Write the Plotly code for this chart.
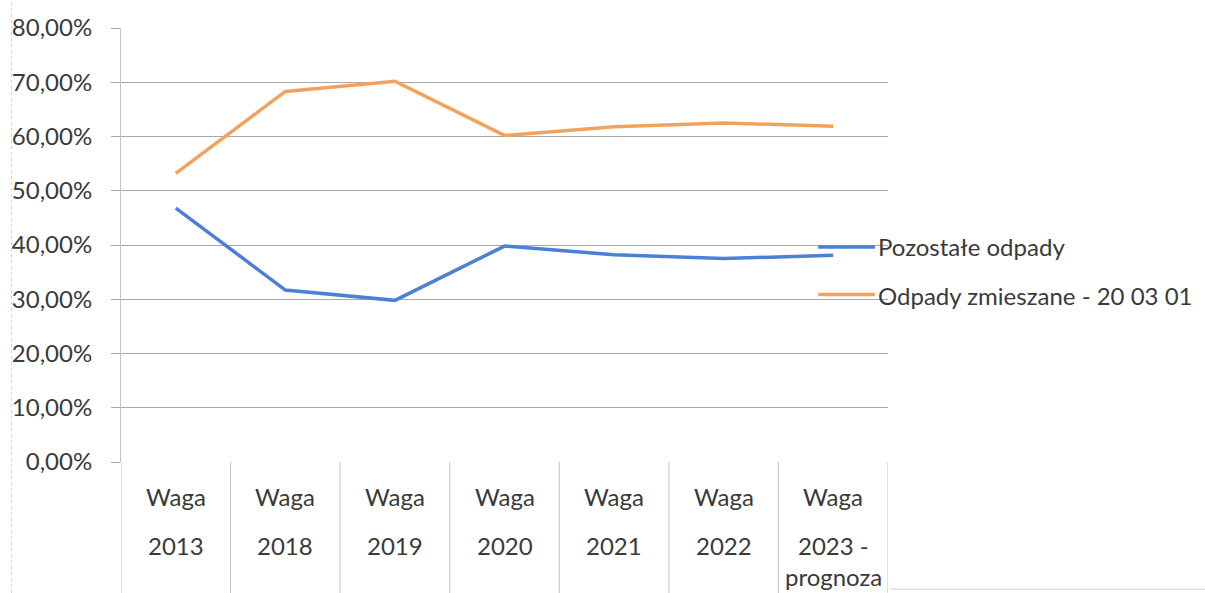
import plotly.graph_objects as go

# Category labels (first word on line 1, year on line 2, suffix on line 3)
categories = ["Waga 2013", "Waga 2018", "Waga 2019", "Waga 2020",
              "Waga 2021", "Waga 2022", "Waga 2023 - prognoza"]

# Shares of waste streams per year
pozostale = [0.468, 0.317, 0.298, 0.398, 0.382, 0.375, 0.381]
zmieszane = [0.532, 0.683, 0.702, 0.602, 0.618, 0.625, 0.619]

series_names = ["Pozostałe odpady", "Odpady zmieszane - 20 03 01"]
series_colors = ["#4a80d6", "#f3a25c"]

FONT = "Lato, 'Open Sans', sans-serif"
TEXT_COLOR = "#3a3a3a"
FS = 24

fig = go.Figure()
for vals, name, color in zip([pozostale, zmieszane], series_names, series_colors):
    fig.add_trace(go.Scatter(x=categories, y=vals, mode="lines", name=name,
                             line=dict(color=color, width=3.5),
                             showlegend=False))

shapes = []
annotations = []

# Category box dividers below the plot area
n = len(categories)
for i in range(n + 1):
    shapes.append(dict(type="line", xref="x", yref="paper",
                       x0=i - 0.5, x1=i - 0.5, y0=0, y1=-0.31 if i else -0.31,
                       line=dict(color="#c4c4c4", width=1)))

# Multi-line category labels
line_y = [-0.0795, -0.193, -0.264]
for cat in categories:
    first, rest = cat.split(" ", 1)
    lines = [first]
    if " - " in rest:
        a, b = rest.split(" - ", 1)
        lines += [a + " -", b]
    else:
        lines.append(rest)
    for k, txt in enumerate(lines):
        annotations.append(dict(x=cat, y=line_y[k], xref="x", yref="paper",
                                text=txt, showarrow=False,
                                xanchor="center", yanchor="middle",
                                font=dict(family=FONT, size=FS, color=TEXT_COLOR)))

# Legend drawn at the right edge of the plot
leg_line_y = [0.4955, 0.386]
leg_text_y = [0.4955, 0.384]
for name, color, ly, ty in zip(series_names, series_colors, leg_line_y, leg_text_y):
    shapes.append(dict(type="line", xref="paper", yref="paper",
                       x0=0.909, x1=0.983, y0=ly, y1=ly,
                       line=dict(color=color, width=3.5)))
    annotations.append(dict(x=0.985, y=ty, xref="paper", yref="paper",
                            text=name, showarrow=False,
                            xanchor="left", yanchor="middle",
                            font=dict(family=FONT, size=FS, color=TEXT_COLOR)))

# Outer frame remnants
shapes.append(dict(type="line", xref="paper", yref="paper",
                   x0=-0.1427, x1=-0.1427, y0=1.06, y1=-0.31,
                   line=dict(color="#cfcfcf", width=1, dash="dot")))
shapes.append(dict(type="line", xref="paper", yref="paper",
                   x0=1.003, x1=1.42, y0=-0.293, y1=-0.293,
                   line=dict(color="#d0d0d0", width=1)))

fig.update_layout(
    width=1205, height=593,
    margin=dict(l=117, r=317, t=22, b=131),
    paper_bgcolor="white", plot_bgcolor="white",
    separators=", ",
    font=dict(family=FONT, size=FS, color=TEXT_COLOR),
    xaxis=dict(type="category", range=[-0.5, n - 0.5],
               showticklabels=False, showgrid=False, ticks="",
               showline=False, zeroline=False, fixedrange=True),
    yaxis=dict(range=[0, 0.8], dtick=0.1, tickformat=".2%",
               showgrid=True, gridcolor="#a8a8a8", gridwidth=1,
               ticks="outside", ticklen=9, tickcolor="#a8a8a8",
               showline=True, linecolor="#c4c4c4", linewidth=1,
               zeroline=False, ticklabelstandoff=14,
               tickfont=dict(family=FONT, size=FS, color=TEXT_COLOR)),
    shapes=shapes,
    annotations=annotations,
    showlegend=False,
)

fig.write_html("out.html")
